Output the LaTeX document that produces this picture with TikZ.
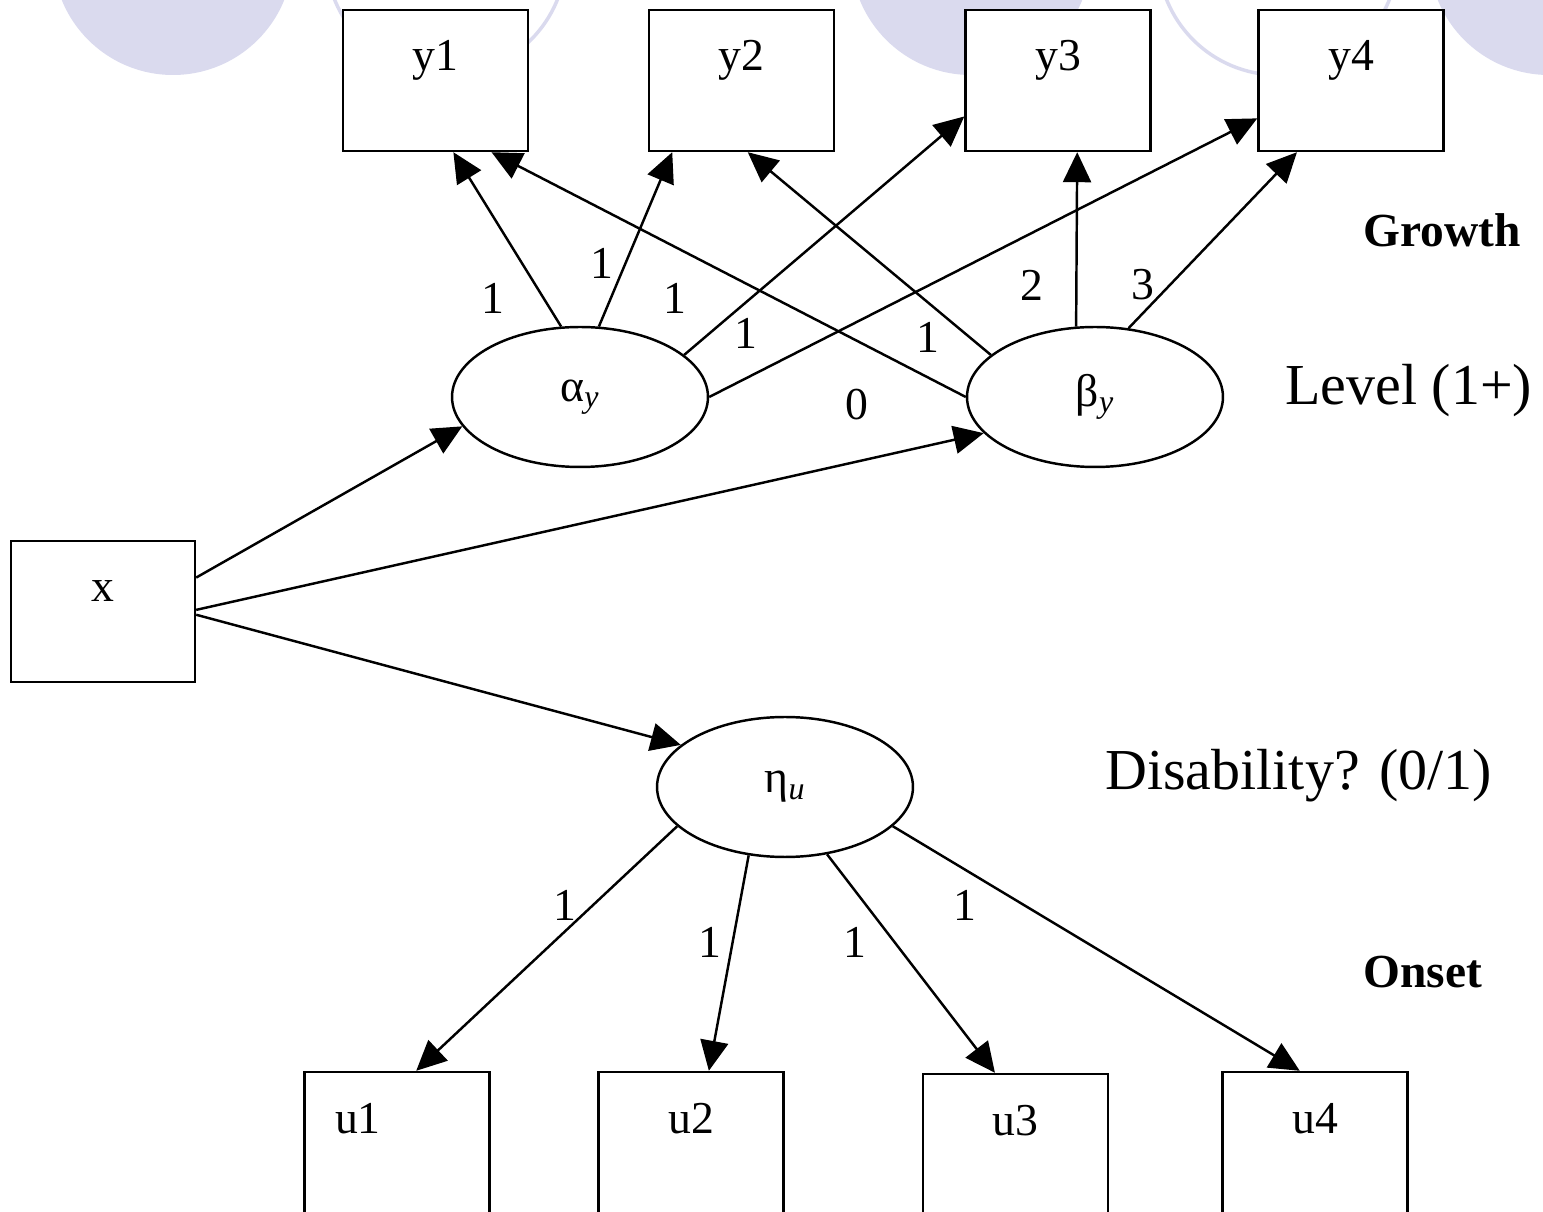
\documentclass[tikz,border=0pt]{standalone}
\usepackage{fontspec}
\setmainfont{Liberation Serif}
\usepackage{tikz}
\usetikzlibrary{arrows.meta, shapes.geometric}
\definecolor{slidebg}{RGB}{218,218,238}

\begin{document}
\begin{tikzpicture}[
  x=0.02cm, y=-0.02cm,
  obs/.style = {draw, fill=white, line width=1.4pt, minimum width=3.7cm, inner sep=0pt,
                text height=1.22cm, text depth=1.6cm, font=\fontsize{26}{30}\selectfont},
  latent/.style = {draw, fill=white, ellipse, line width=1.4pt, minimum width=5.12cm,
                   minimum height=2.8cm, font=\fontsize{26}{30}\selectfont},
  arrow/.style = {line width=1.4pt, -{Triangle[length=6mm, width=5.6mm]}},
  wt/.style = {font=\fontsize{26}{30}\selectfont, inner sep=0pt},
  side/.style = {font=\fontsize{33}{40}\selectfont, anchor=base west, inner sep=0pt},
  part/.style = {font=\fontsize{27}{32}\selectfont\bfseries, anchor=base west, inner sep=0pt}
]
  \useasboundingbox (0,0) rectangle (1543,1212);
  \clip (0,0) rectangle (1543,1212);

  % slide background
  \fill[slidebg] (173,-45) circle[radius=120];
  \draw[slidebg, line width=0.07cm] (446,-45) circle[radius=120];
  \fill[slidebg] (971,-45) circle[radius=120];
  \draw[slidebg, line width=0.07cm] (1278,-45) circle[radius=120];
  \fill[slidebg] (1549,-45) circle[radius=120];

  % growth part: outcomes and growth factors
  \node[obs] (y1) at (435.5,80.5) {y1};
  \node[obs] (y2) at (741.5,80.5) {y2};
  \node[obs] (y3) at (1058,80.5) {y3};
  \node[obs] (y4) at (1351,80.5) {y4};
  \node[latent] (alpha) at (580,397) {α\textsubscript{\itshape y}};
  \node[latent] (beta) at (1095,397) {β\textsubscript{\itshape y}};

  % covariate
  \node[obs, minimum width=3.68cm] (x) at (103,611.5) {x};

  % onset part
  \node[latent] (eta) at (785,787) {η\textsubscript{\itshape u}};
  \node[obs, text width=2.48cm, inner xsep=0.6cm, align=left] (u1) at (397,1142.5) {u1};
  \node[obs] (u2) at (691,1142.5) {u2};
  \node[obs] (u3) at (1015.5,1144.5) {u3};
  \node[obs] (u4) at (1315,1142.5) {u4};

  % loadings
  \draw[arrow] (alpha.105) -- (y1.-76);
  \draw[arrow] (alpha.75) -- (y2.-134);
  \draw[arrow] (alpha.22) -- (y3.-159);
  \draw[arrow] (alpha.east) -- (y4.-158);
  \draw[arrow] (beta.west) -- (y1.-52);
  \draw[arrow] (beta.158) -- (y2.-85);
  \draw[arrow] (beta.105) -- (y3.-75);
  \draw[arrow] (beta.64) -- (y4.-127);
  \draw[arrow] (eta.-160) -- (u1.75);
  \draw[arrow] (eta.-118) -- (u2.76);
  \draw[arrow] (eta.-58) -- (u3.106);
  \draw[arrow] (eta.-20) -- (u4.102);

  % regressions on x
  \draw[arrow] (x.20) -- (alpha.-166);
  \draw[arrow] (x.1) -- (beta.-162);
  \draw[arrow] (x.-2) -- (eta.158);

  % loading values
  \node[wt] (la1) at (493,298) {1};
  \node[wt] (la2) at (602,263) {1};
  \node[wt] (la3) at (675,298) {1};
  \node[wt] (la4) at (746,333) {1};
  \node[wt] (lb1) at (857,405) {0};
  \node[wt] (lb2) at (928,337) {1};
  \node[wt] (lb3) at (1032,285) {2};
  \node[wt] (lb4) at (1143,285) {3};
  \node[wt] (lu1) at (565,905) {1};
  \node[wt] (lu2) at (710,942) {1};
  \node[wt] (lu3) at (855,942) {1};
  \node[wt] (lu4) at (965,905) {1};

  % side labels
  \node[part] (growth) at (1363,247) {Growth};
  \node[side] (level) at (1285,405) {Level (1+)};
  \node[side] (disab) at (1105,790) {Disability? (0/1)};
  \node[part] (onset) at (1363,988) {Onset};
\end{tikzpicture}
\end{document}
